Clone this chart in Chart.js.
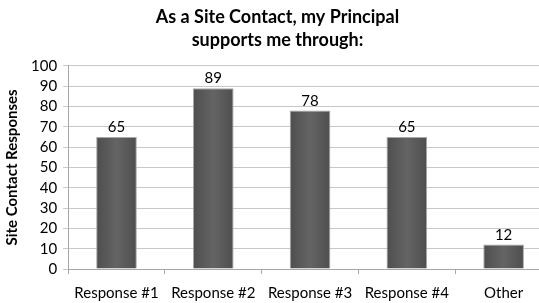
<!DOCTYPE html>
<html>
<head>
<meta charset="utf-8">
<script src="https://cdn.jsdelivr.net/npm/chart.js@4/dist/chart.umd.min.js"></script>
<style>
  html, body { margin: 0; padding: 0; background: #fff; overflow: hidden; }
  #wrap { width: 552px; height: 312px; }
</style>
</head>
<body>
<div id="wrap"><canvas id="grafica" width="552" height="312"></canvas></div>
<script>
const categorias = ['Response #1', 'Response #2', 'Response #3', 'Response #4', 'Other'];
const respuestas = [65, 89, 78, 65, 12];
const titulo = ['As a Site Contact, my Principal', 'supports me through:'];
const tituloEje = 'Site Contact Responses';

const fuente = 'Lato, "DejaVu Sans", sans-serif';
const anchoBarra = 0.42;

// etiquetas encima de cada barra
const etiquetasBarras = {
  id: 'etiquetasBarras',
  afterDatasetsDraw(chart) {
    const ctx = chart.ctx;
    const meta = chart.getDatasetMeta(0);
    ctx.save();
    ctx.font = '15px ' + fuente;
    ctx.fillStyle = '#000';
    ctx.textAlign = 'center';
    ctx.textBaseline = 'bottom';
    meta.data.forEach((barra, i) => {
      ctx.fillText(respuestas[i], barra.x, barra.y - 2);
    });
    ctx.restore();
  }
};

function rellenoBarra(context) {
  const chart = context.chart;
  const escala = chart.scales.x;
  if (!chart.chartArea || !escala || context.dataIndex == null) return '#5a5a5a';
  const cx = escala.getPixelForValue(context.dataIndex);
  const w = escala.width / categorias.length * anchoBarra;
  if (isNaN(cx)) return '#5a5a5a';
  const x0 = cx - w / 2;
  const g = chart.ctx.createLinearGradient(x0, 0, x0 + w, 0);
  g.addColorStop(0, '#4e4e4e');
  g.addColorStop(0.5, '#646464');
  g.addColorStop(1, '#4e4e4e');
  return g;
}

new Chart(document.getElementById('grafica').getContext('2d'), {
  type: 'bar',
  data: {
    labels: categorias,
    datasets: [{
      data: respuestas,
      backgroundColor: rellenoBarra,
      borderColor: '#a8a8a8',
      borderWidth: 1,
      categoryPercentage: 1,
      barPercentage: anchoBarra
    }]
  },
  options: {
    responsive: false,
    animation: false,
    layout: { padding: { left: 3, right: 0, top: 4, bottom: 0 } },
    plugins: {
      legend: { display: false },
      tooltip: { enabled: false },
      title: {
        display: true,
        text: titulo,
        color: '#000',
        font: { family: fuente, size: 18, weight: 'bold', lineHeight: 1.3 },
        padding: { top: 1, bottom: 14 }
      }
    },
    scales: {
      x: {
        grid: {
          display: true,
          offset: true,
          drawOnChartArea: false,
          tickLength: 5,
          color: '#a6a6a6'
        },
        border: { color: '#a6a6a6' },
        ticks: {
          color: '#000',
          font: { family: fuente, size: 15 },
          padding: 10,
          maxRotation: 0
        }
      },
      y: {
        min: 0,
        max: 100,
        ticks: {
          stepSize: 10,
          autoSkip: false,
          color: '#000',
          font: { family: fuente, size: 15 },
          padding: 6
        },
        grid: { color: '#c8c8c8', tickLength: 5 },
        border: { color: '#a6a6a6' },
        title: {
          display: true,
          text: tituloEje,
          color: '#000',
          font: { family: fuente, size: 15, weight: 'bold' },
          padding: { top: 0, bottom: 4 }
        }
      }
    }
  },
  plugins: [etiquetasBarras]
});
</script>
</body>
</html>
